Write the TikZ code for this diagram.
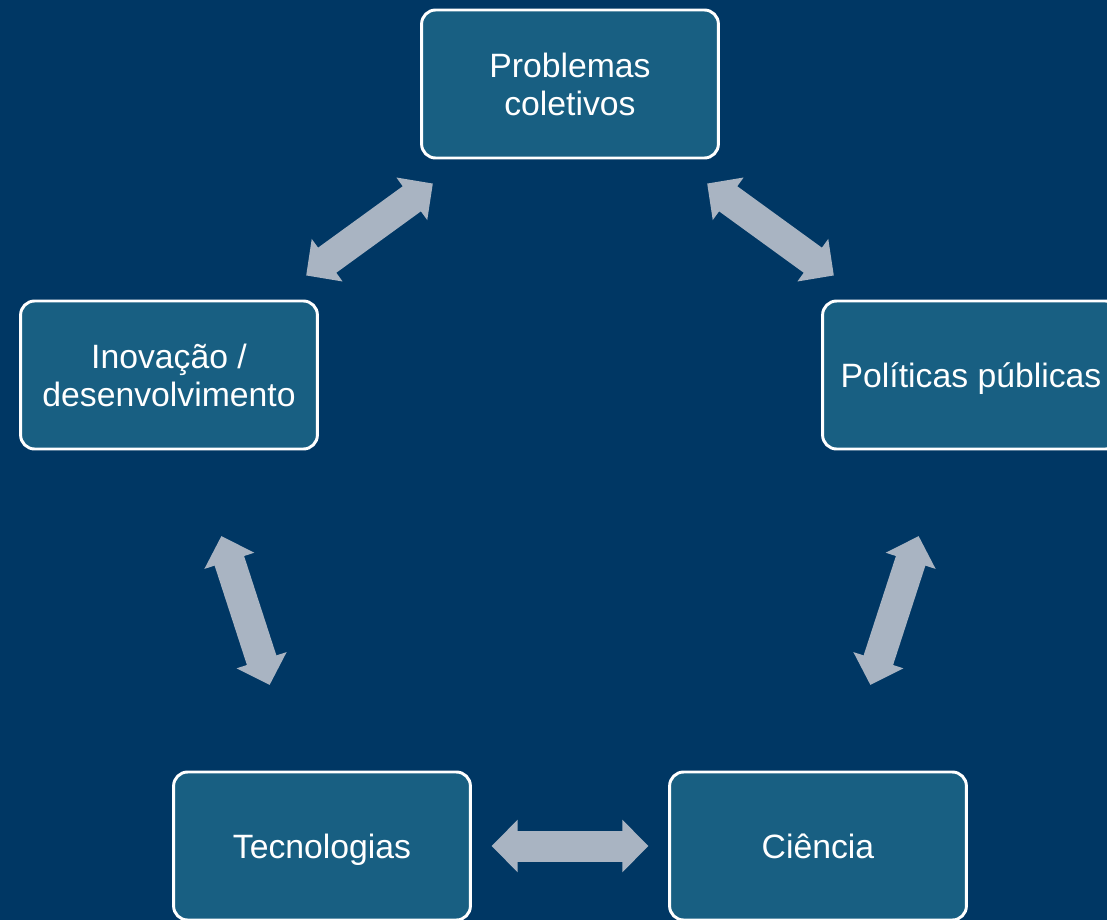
\documentclass[tikz,border=0pt]{standalone}
\usepackage{fontspec}
\setmainfont{Liberation Sans}
\usepackage{tikz}
\usetikzlibrary{arrows.meta, calc}
\definecolor{fundo}{RGB}{0, 55, 100}
\definecolor{caixa}{RGB}{24, 95, 130}
\definecolor{setacinza}{RGB}{169, 180, 194}

\begin{document}
\begin{tikzpicture}[
    bloco/.style={draw=white, line width=2.1pt, fill=caixa, rounded corners=0.35cm,
      minimum width=7.42cm, minimum height=3.7cm, align=center, text=white,
      text depth=0pt, font=\fontsize{24}{27}\selectfont},
    seta/.style={draw=setacinza, line width=0.775cm,
      {Triangle[length=0.65cm, width=1.275cm]}-{Triangle[length=0.65cm, width=1.275cm]}}
  ]
  % fundo
  \useasboundingbox (0,0) rectangle (27.675,-23);
  \clip (0,0) rectangle (27.675,-23);
  \fill[fundo] (0,0) rectangle (27.675,-23);

  % etapas do ciclo
  \node[bloco] (prob) at (14.25,-2.1)   {Problemas\\coletivos};
  \node[bloco] (pol)  at (24.275,-9.375) {Políticas públicas};
  \node[bloco] (cien) at (20.45,-21.15) {Ciência};
  \node[bloco] (tec)  at (8.05,-21.15)  {Tecnologias};
  \node[bloco] (inov) at (4.225,-9.375) {Inovação /\\desenvolvimento};

  % setas duplas entre etapas vizinhas
  \draw[seta] ($(inov)!0.342!(prob)$) -- ($(inov)!0.658!(prob)$);
  \draw[seta] ($(prob)!0.342!(pol)$)  -- ($(prob)!0.658!(pol)$);
  \draw[seta] ($(pol)!0.342!(cien)$)  -- ($(pol)!0.658!(cien)$);
  \draw[seta] ($(tec)!0.342!(cien)$)  -- ($(tec)!0.658!(cien)$);
  \draw[seta] ($(inov)!0.342!(tec)$)  -- ($(inov)!0.658!(tec)$);
\end{tikzpicture}
\end{document}
